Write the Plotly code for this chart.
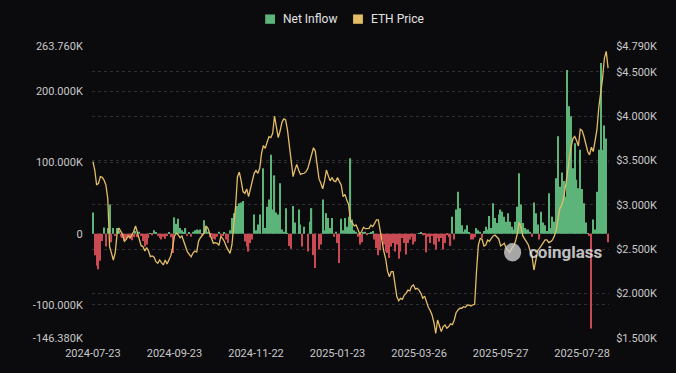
import pandas as pd
import plotly.graph_objects as go

# ---- data ----
start_date = "2024-07-23"
n_days = 279  # weekdays 2024-07-23 .. 2025-08-15
dates = pd.bdate_range(start_date, periods=n_days).strftime("%Y-%m-%d").tolist()

tick_labels = ["2024-07-23", "2024-09-23", "2024-11-22", "2025-01-23",
               "2025-03-26", "2025-05-27", "2025-07-28"]

# Net inflow, thousands of ETH
net_inflow = [
    30, -30, -45, -50, -38, -10, 9, -18, 8, 41,
    -12, 8, -3, 8, 4, -4, -6, -10, -8, -3,
    -7, -9, -5, 4, -5, 3, -3, -10, -18, -15,
    -6, 1, -2, 5, 2, -3, -6, -8, -4, -7,
    -3, 2, -5, -27, 23, 14, 21, 8, 5, 2,
    8, -3, 2, -4, 3, 5, 6, 5, 6, -2,
    19, 10, 3, -5, -2, -7, -8, -4, 3, -5,
    -3, 2, -8, -13, 5, 22, 29, 34, 39, 43,
    44, 46, -11, -18, -25, -13, -8, 27, 5, 13,
    27, 0, 92, 8, 38, 48, 111, 34, 82, 30,
    27, 71, 6, 3, 36, 1, -17, -21, 39, 16,
    0, 34, 13, -18, 10, 0, -25, 17, 36, -30,
    -48, 0, -22, -15, 48, 5, 29, 22, 8, 22,
    -4, 3, -13, -41, 21, 5, 22, 10, 24, 106,
    20, 5, 3, -4, -15, -12, 2, 3, -2, 1,
    2, 4, -8, -20, -30, -23, -8, -15, -25, -27,
    -34, -18, -13, -25, -15, -35, -25, -6, -13, -29,
    -13, -8, -4, -15, -11, 0, 1, 2, -2, -1,
    -26, -4, -13, -3, -15, -22, -6, -11, -6, -22,
    -13, -2, -5, -17, 24, -8, 34, 59, 36, 12,
    3, 6, 12, 2, -8, -8, -5, 8, 5, 3,
    -6, 4, 10, 6, 25, 8, 43, 22, 15, 27,
    34, 31, 24, 17, 29, 17, 10, 6, 17, 38,
    85, 41, 15, 8, 6, 6, 3, -4, 44, 29,
    13, -8, 31, 16, 12, 4, 57, 8, 24, 17,
    78, 137, 66, 86, 74, 52, 230, 179, 165, 92,
    127, 76, 64, 118, 63, 43, 16, 1, -3, -133,
    20, 6, 59, 118, 240, 118, 152, 134, -12,
]

# ETH price, USD
eth_price = [
    3487, 3393, 3224, 3243, 3318, 3310, 3280, 3224, 3074, 2530,
    2457, 2379, 2457, 2665, 2739, 2700, 2665, 2590, 2610, 2650,
    2630, 2665, 2700, 2762, 2680, 2590, 2540, 2530, 2480, 2518,
    2480, 2416, 2425, 2410, 2360, 2342, 2379, 2350, 2323, 2379,
    2333, 2379, 2425, 2518, 2650, 2680, 2665, 2630, 2650, 2590,
    2518, 2469, 2443, 2416, 2457, 2480, 2469, 2590, 2630, 2650,
    2680, 2762, 2739, 2680, 2610, 2567, 2575, 2567, 2545, 2642,
    2623, 2585, 2529, 2492, 2454, 2548, 2735, 2980, 3318, 3370,
    3270, 3150, 3130, 3180, 3092, 3180, 3280, 3356, 3387, 3356,
    3412, 3581, 3669, 3637, 3706, 3769, 3757, 3806, 4001, 3862,
    3757, 3832, 3930, 3968, 3956, 3843, 3656, 3525, 3318, 3393,
    3456, 3393, 3343, 3351, 3356, 3374, 3412, 3487, 3569, 3644,
    3606, 3412, 3292, 3243, 3180, 3270, 3393, 3330, 3270, 3308,
    3270, 3262, 3308, 3262, 3224, 3092, 3118, 3055, 3003, 2811,
    2800, 2762, 2773, 2725, 2670, 2700, 2747, 2732, 2735, 2735,
    2770, 2755, 2792, 2830, 2830, 2700, 2560, 2475, 2390, 2250,
    2191, 2247, 2247, 2115, 1966, 1920, 1947, 1935, 1984, 2003,
    2040, 2030, 2085, 2097, 2050, 2060, 2040, 2003, 1947, 1972,
    1900, 1846, 1810, 1760, 1675, 1553, 1703, 1647, 1572, 1629,
    1647, 1610, 1629, 1660, 1650, 1703, 1785, 1816, 1835, 1835,
    1853, 1846, 1872, 1869, 1861, 1872, 1880, 2250, 2548, 2623,
    2612, 2537, 2548, 2605, 2590, 2623, 2650, 2660, 2642, 2616,
    2537, 2548, 2567, 2510, 2484, 2462, 2510, 2537, 2586, 2672,
    2800, 2755, 2650, 2620, 2586, 2548, 2473, 2417, 2266, 2398,
    2484, 2510, 2537, 2575, 2605, 2605, 2575, 2586, 2605, 2650,
    2717, 2848, 2961, 2999, 3074, 3205, 3348, 3525, 3649, 3747,
    3770, 3725, 3664, 3852, 3837, 3770, 3695, 3601, 3563, 3649,
    3600, 3720, 3850, 4100, 4250, 4420, 4650, 4730, 4540,
]

left_ticks = [-146.38, -100, 0, 100, 200, 263.76]
left_tick_text = ["-146.380K", "-100.000K", "0", "100.000K", "200.000K", "263.760K"]
right_ticks = [1500, 2000, 2500, 3000, 3500, 4000, 4500, 4790]
right_tick_text = ["$1.500K", "$2.000K", "$2.500K", "$3.000K", "$3.500K",
                   "$4.000K", "$4.500K", "$4.790K"]
legend_names = ["Net Inflow", "ETH Price"]

# ---- styling ----
BG = "#0b0b0e"
GREEN = "#5cb47a"
RED = "#c94a52"
GOLD = "#e3bd65"
GRID = "#2e2e33"
TXT = "#c8c8c8"
FONT = "Roboto"

bar_colors = [GREEN if v >= 0 else RED for v in net_inflow]

fig = go.Figure()
fig.add_trace(go.Bar(x=dates, y=net_inflow, name=legend_names[0],
                     marker=dict(color=bar_colors, line=dict(width=0)),
                     showlegend=False, yaxis="y"))
fig.add_trace(go.Scatter(x=dates, y=eth_price, mode="lines", name=legend_names[1],
                         line=dict(color=GOLD, width=1.3),
                         showlegend=False, yaxis="y2"))

# The page body has an 8px default margin; the figure is sized so that
# it fills the 676x373 window from that offset.
fig.update_layout(
    width=668, height=365,
    margin=dict(l=84, r=67, t=38, b=35, autoexpand=False),
    paper_bgcolor=BG, plot_bgcolor=BG,
    font=dict(family=FONT, size=11, color=TXT),
    bargap=0.35,
    showlegend=False,
    xaxis=dict(type="category", tickmode="array", tickvals=tick_labels, ticktext=tick_labels,
               showgrid=False, zeroline=False, showline=False,
               ticks="outside", ticklen=5, tickcolor="rgba(0,0,0,0)",
               tickfont=dict(size=11, color=TXT), range=[-0.5, n_days - 0.5]),
    yaxis=dict(range=[-146.38, 263.76], tickmode="array", tickvals=left_ticks,
               ticktext=left_tick_text, showgrid=True, gridcolor=GRID, griddash="3px,3px",
               gridwidth=1, zeroline=False, showline=False,
               ticks="outside", ticklen=6, tickcolor="rgba(0,0,0,0)",
               tickfont=dict(size=11, color=TXT)),
    yaxis2=dict(range=[1500, 4790], overlaying="y", side="right", tickmode="array",
                tickvals=right_ticks, ticktext=right_tick_text, showgrid=True,
                gridcolor=GRID, griddash="3px,3px", gridwidth=1, zeroline=False,
                showline=False, ticks="outside", ticklen=4, tickcolor="rgba(0,0,0,0)",
                tickfont=dict(size=11, color=TXT)),
)

# custom legend (small squares + labels) at the top
legend_items = [(legend_names[0], GREEN, 0.335), (legend_names[1], GOLD, 0.505)]
for name, col, x0 in legend_items:
    fig.add_shape(type="rect", xref="paper", yref="paper",
                  x0=x0, x1=x0 + 0.019, y0=1.076, y1=1.108,
                  fillcolor=col, line=dict(width=0))
    fig.add_annotation(text=name, xref="paper", yref="paper",
                       x=x0 + 0.031, y=1.092, xanchor="left", yanchor="middle",
                       showarrow=False, font=dict(family=FONT, size=12, color="#e4e4e4"))

# watermark
fig.add_shape(type="circle", xref="paper", yref="paper",
              x0=0.797, x1=0.830, y0=0.262, y1=0.325,
              fillcolor="rgba(205,205,205,0.8)", line=dict(width=0), layer="above")
fig.add_annotation(text="<b>coinglass</b>", xref="paper", yref="paper",
                   x=0.917, y=0.293, xanchor="center", yanchor="middle", showarrow=False,
                   font=dict(family=FONT, size=17, color="rgba(225,225,225,0.85)"))

fig.write_html("out.html", config={"displayModeBar": False},
               post_script="document.body.style.backgroundColor='" + BG + "';")
